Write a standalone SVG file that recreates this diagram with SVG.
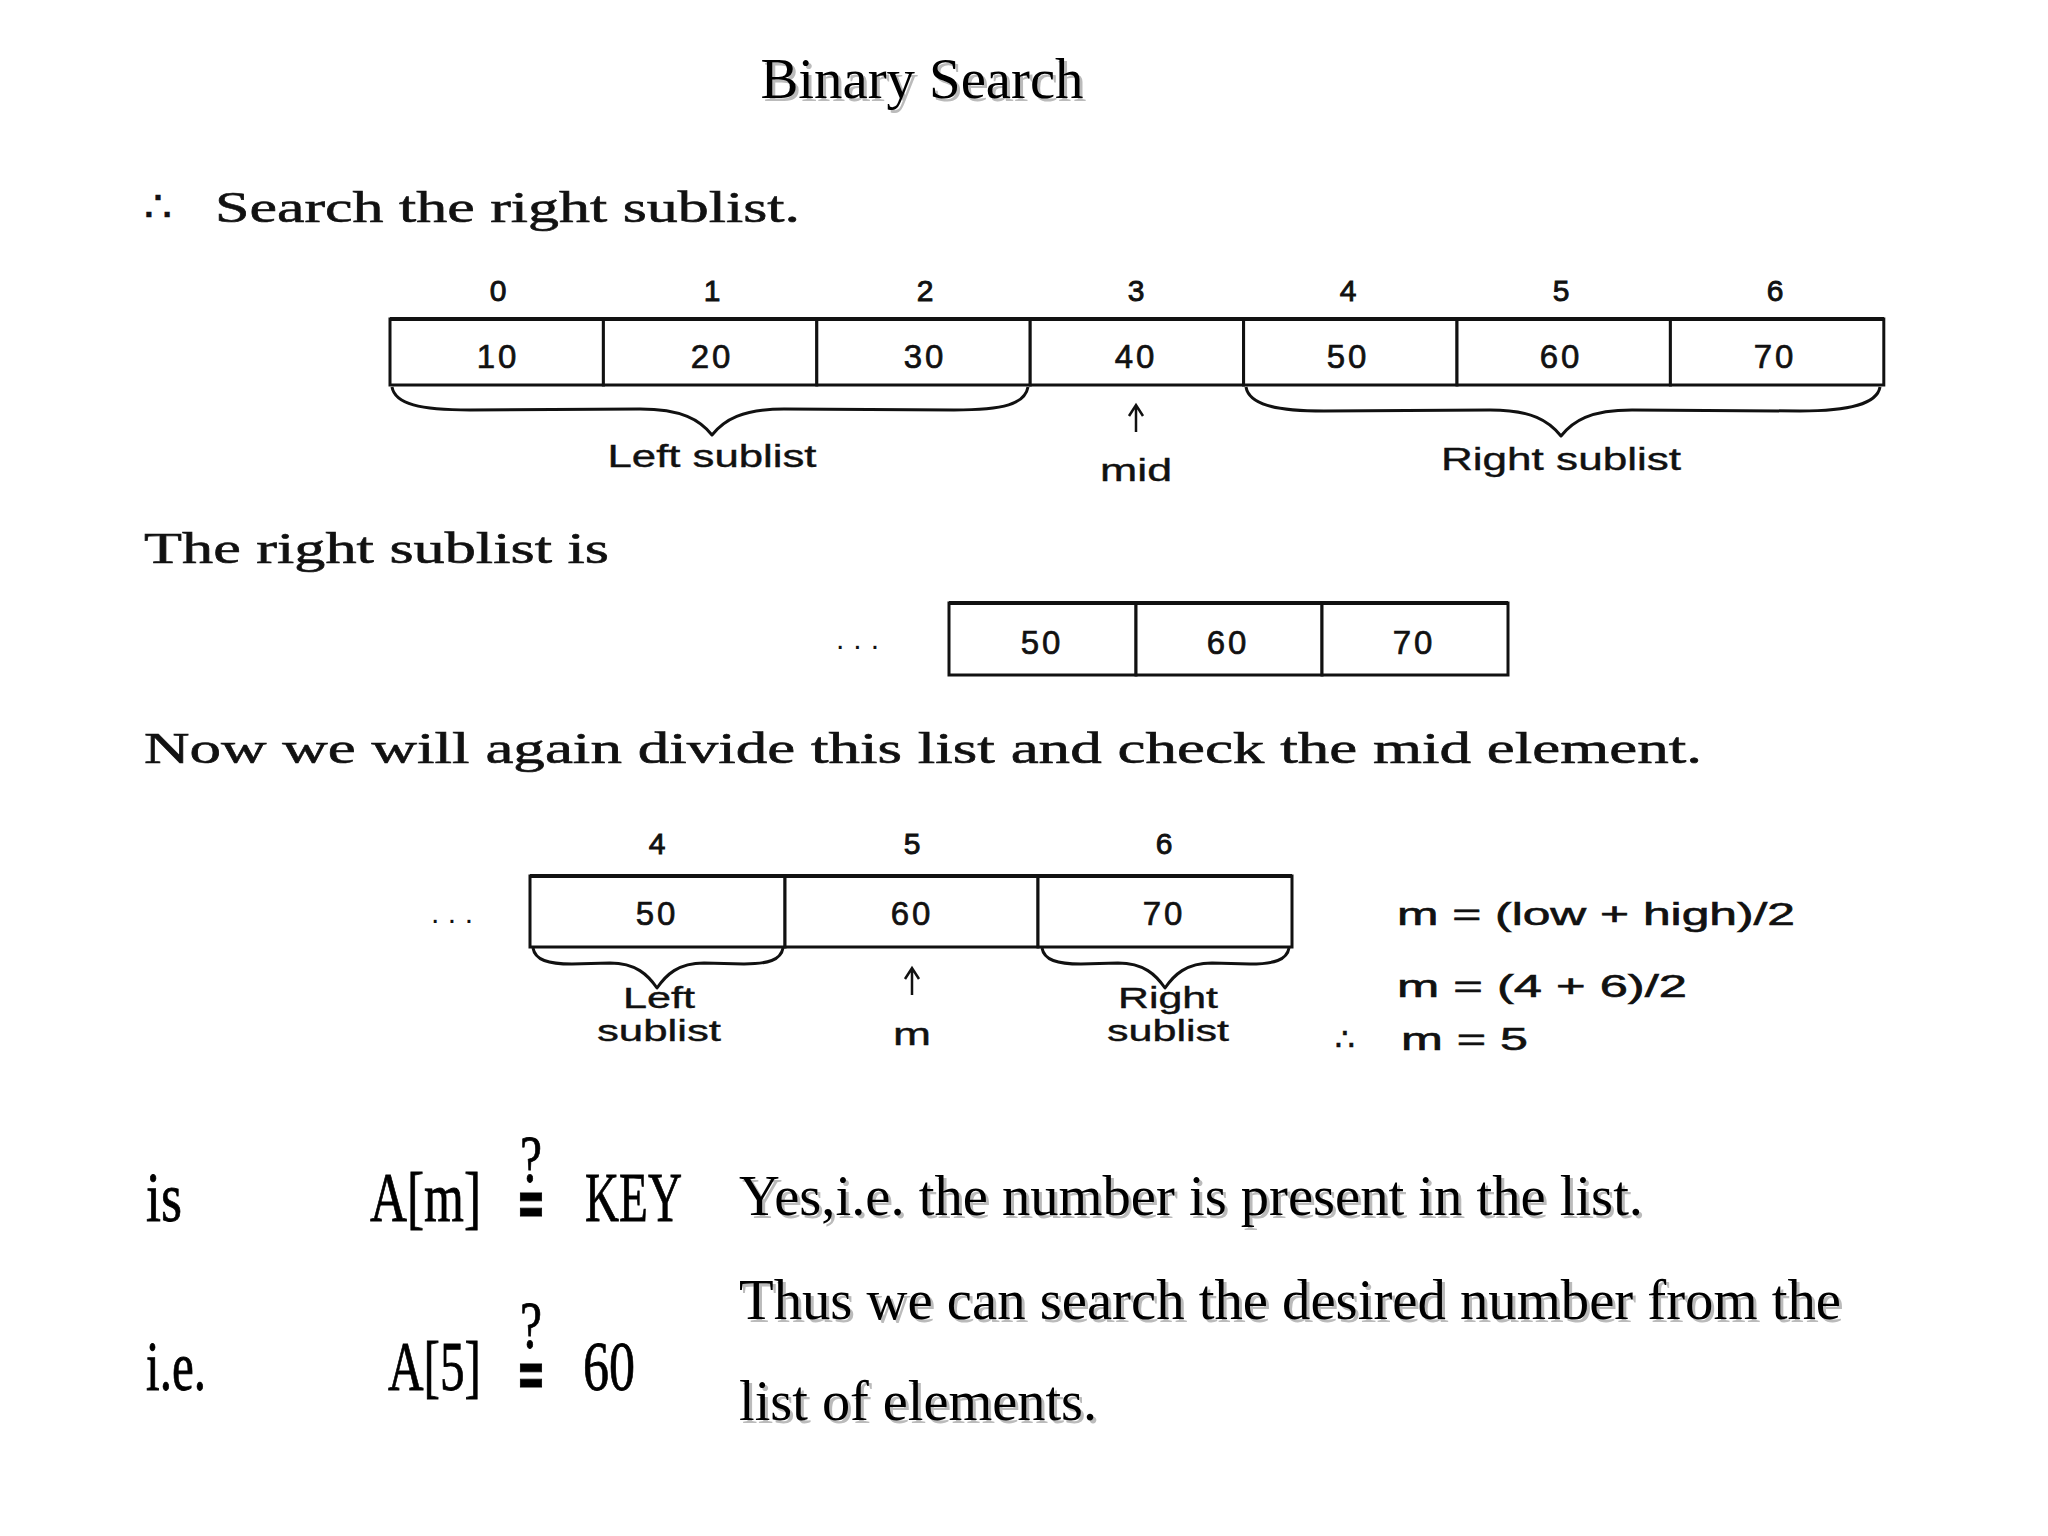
<svg xmlns="http://www.w3.org/2000/svg" width="2048" height="1536" viewBox="0 0 2048 1536">
<defs>
<style>
.serif{font-family:"Liberation Serif","Times New Roman",serif;fill:#000}
.book{font-family:"Liberation Serif","Times New Roman",serif;font-size:44px;fill:#111;stroke:#111;stroke-width:0.6}
.sans{font-family:"Liberation Sans",Arial,sans-serif;fill:#111}
.idx{font-size:30px;text-anchor:middle;stroke:#111;stroke-width:0.9}
.val{font-size:33px;text-anchor:middle;letter-spacing:3px;stroke:#111;stroke-width:0.7}
.lbl{font-size:31px;text-anchor:middle;stroke:#111;stroke-width:0.4}
.frm{font-size:31px;stroke:#111;stroke-width:0.6}
.cell{fill:#fff;stroke:#111;stroke-width:3}
.brace{fill:none;stroke:#111;stroke-width:3;stroke-linejoin:round}
.arr{fill:none;stroke:#111;stroke-width:2.5}
.shadow{fill:#bbb;stroke:none}
.math{font-family:"Liberation Serif","Times New Roman",serif;fill:#000;font-size:70px;stroke:#000;stroke-width:0.8}
</style>
</defs>
<rect width="2048" height="1536" fill="#fff"/>

<g id="title">
<text class="serif shadow" x="925" y="101" font-size="56" text-anchor="middle" textLength="323" lengthAdjust="spacingAndGlyphs">Binary Search</text>
<text class="serif" x="922" y="98" font-size="56" text-anchor="middle" textLength="323" lengthAdjust="spacingAndGlyphs">Binary Search</text>
</g>

<g id="search-right">
<text class="book" x="144" y="222">∴</text>
<text class="book" x="215" y="222" textLength="585" lengthAdjust="spacingAndGlyphs">Search the right sublist.</text>
</g>

<g id="array1">
<rect class="cell" x="390" y="319" width="213.4" height="66"/>
<rect class="cell" x="603.4" y="319" width="213.4" height="66"/>
<rect class="cell" x="816.8" y="319" width="213.4" height="66"/>
<rect class="cell" x="1030.2" y="319" width="213.4" height="66"/>
<rect class="cell" x="1243.6" y="319" width="213.4" height="66"/>
<rect class="cell" x="1457" y="319" width="213.4" height="66"/>
<rect class="cell" x="1670.4" y="319" width="213.4" height="66"/>
<line x1="390" y1="319" x2="1884" y2="319" stroke="#111" stroke-width="4"/>
<text class="sans idx" x="498" y="301">0</text>
<text class="sans idx" x="712" y="301">1</text>
<text class="sans idx" x="925" y="301">2</text>
<text class="sans idx" x="1136" y="301">3</text>
<text class="sans idx" x="1348" y="301">4</text>
<text class="sans idx" x="1561" y="301">5</text>
<text class="sans idx" x="1775" y="301">6</text>
<text class="sans val" x="498" y="368">10</text>
<text class="sans val" x="712" y="368">20</text>
<text class="sans val" x="925" y="368">30</text>
<text class="sans val" x="1136" y="368">40</text>
<text class="sans val" x="1348" y="368">50</text>
<text class="sans val" x="1561" y="368">60</text>
<text class="sans val" x="1775" y="368">70</text>
</g>

<g id="labels1">
<text class="sans lbl" x="712" y="467" textLength="209" lengthAdjust="spacingAndGlyphs">Left sublist</text>
<text class="sans lbl" x="1136" y="481" textLength="72" lengthAdjust="spacingAndGlyphs">mid</text>
<text class="sans lbl" x="1561" y="470" textLength="240" lengthAdjust="spacingAndGlyphs">Right sublist</text>
</g>

<g id="right-sublist-is">
<text class="book" x="144" y="563" textLength="465" lengthAdjust="spacingAndGlyphs">The right sublist is</text>
</g>

<g id="array2">
<text class="sans" x="836" y="649" font-size="30" textLength="43" lengthAdjust="spacing">...</text>
<rect class="cell" x="949" y="603" width="187" height="72"/>
<rect class="cell" x="1136" y="603" width="186" height="72"/>
<rect class="cell" x="1322" y="603" width="186" height="72"/>
<line x1="949" y1="603" x2="1508" y2="603" stroke="#111" stroke-width="4"/>
<text class="sans val" x="1042" y="654">50</text>
<text class="sans val" x="1228" y="654">60</text>
<text class="sans val" x="1414" y="654">70</text>
</g>

<g id="divide-text">
<text class="book" x="144" y="763" textLength="1558" lengthAdjust="spacingAndGlyphs">Now we will again divide this list and check the mid element.</text>
</g>

<g id="array3">
<text class="sans" x="431" y="923" font-size="30" textLength="42" lengthAdjust="spacing">...</text>
<rect class="cell" x="530" y="876" width="255" height="71"/>
<rect class="cell" x="785" y="876" width="253" height="71"/>
<rect class="cell" x="1038" y="876" width="254" height="71"/>
<line x1="530" y1="876" x2="1292" y2="876" stroke="#111" stroke-width="4"/>
<text class="sans idx" x="657" y="854">4</text>
<text class="sans idx" x="912" y="854">5</text>
<text class="sans idx" x="1164" y="854">6</text>
<text class="sans val" x="657" y="925">50</text>
<text class="sans val" x="912" y="925">60</text>
<text class="sans val" x="1164" y="925">70</text>
</g>

<g id="labels3">
<text class="sans lbl" style="font-size:29px"><tspan x="659" y="1008" textLength="72" lengthAdjust="spacingAndGlyphs">Left</tspan><tspan x="659" y="1041" textLength="124" lengthAdjust="spacingAndGlyphs">sublist</tspan></text>
<text class="sans lbl" x="912" y="1045" textLength="38" lengthAdjust="spacingAndGlyphs">m</text>
<text class="sans lbl" style="font-size:29px"><tspan x="1168" y="1008" textLength="100" lengthAdjust="spacingAndGlyphs">Right</tspan><tspan x="1168" y="1041" textLength="122" lengthAdjust="spacingAndGlyphs">sublist</tspan></text>
</g>

<g id="formula">
<text class="sans frm" x="1397" y="925" textLength="398" lengthAdjust="spacingAndGlyphs">m = (low + high)/2</text>
<text class="sans frm" x="1397" y="997" textLength="290" lengthAdjust="spacingAndGlyphs">m = (4 + 6)/2</text>
<text class="sans frm" x="1335" y="1050" font-size="26">∴</text>
<text class="sans frm" x="1401" y="1050" textLength="127" lengthAdjust="spacingAndGlyphs">m = 5</text>
</g>

<g id="connectors">
<path class="brace" d="M392 387 C395 404 420 410 470 410 L640 409 C682 409 700 420 712 435 C724 420 742 409 784 409 L954 410 C1004 410 1025 404 1028 387"/>
<path class="brace" d="M1246 387 C1249 404 1274 411 1324 411 L1490 410 C1532 410 1549 421 1561 436 C1573 421 1590 410 1632 410 L1800 411 C1850 411 1877 404 1880 387"/>
<path class="arr" d="M1136 432 L1136 406 M1129 416 L1136 405 L1143 416"/>
<path class="brace" d="M533 948 C535 960 548 964 572 964 L610 963 C636 963 648 975 657 988 C666 975 678 963 704 963 L744 964 C768 964 781 960 783 948"/>
<path class="brace" d="M1042 948 C1044 960 1057 964 1081 964 L1118 963 C1144 963 1156 975 1165 988 C1174 975 1186 963 1212 963 L1250 964 C1274 964 1287 960 1289 948"/>
<path class="arr" d="M912 995 L912 969 M905 979 L912 968 L919 979"/>
</g>

<g id="check-left">
<text class="math" x="146" y="1221" textLength="36" lengthAdjust="spacingAndGlyphs">is</text>
<text class="math" x="370" y="1221" textLength="111" lengthAdjust="spacingAndGlyphs">A[m]</text>
<text class="math" text-anchor="middle"><tspan x="531" y="1182" font-size="68" textLength="22" lengthAdjust="spacingAndGlyphs">?</tspan><tspan x="531" y="1226" font-family="DejaVu Sans" font-weight="bold" font-size="68" textLength="29" lengthAdjust="spacingAndGlyphs">=</tspan></text>
<text class="math" x="585" y="1221" textLength="97" lengthAdjust="spacingAndGlyphs">KEY</text>
<text class="math" x="146" y="1390" textLength="60" lengthAdjust="spacingAndGlyphs">i.e.</text>
<text class="math" x="388" y="1390" textLength="93" lengthAdjust="spacingAndGlyphs">A[5]</text>
<text class="math" text-anchor="middle"><tspan x="531" y="1348" font-size="68" textLength="22" lengthAdjust="spacingAndGlyphs">?</tspan><tspan x="531" y="1397" font-family="DejaVu Sans" font-weight="bold" font-size="68" textLength="29" lengthAdjust="spacingAndGlyphs">=</tspan></text>
<text class="math" x="583" y="1390" textLength="52" lengthAdjust="spacingAndGlyphs">60</text>
</g>

<g id="conclusion">
<text class="serif shadow" x="742" y="1218" font-size="56" textLength="904" lengthAdjust="spacingAndGlyphs">Yes,i.e. the number is present in the list.</text>
<text class="serif" x="739" y="1215" font-size="56" textLength="904" lengthAdjust="spacingAndGlyphs">Yes,i.e. the number is present in the list.</text>
<text class="serif shadow" x="742" y="1322" font-size="56" textLength="1102" lengthAdjust="spacingAndGlyphs">Thus we can search the desired number from the</text>
<text class="serif" x="739" y="1319" font-size="56" textLength="1102" lengthAdjust="spacingAndGlyphs">Thus we can search the desired number from the</text>
<text class="serif shadow" x="742" y="1423" font-size="56" textLength="358" lengthAdjust="spacingAndGlyphs">list of elements.</text>
<text class="serif" x="739" y="1420" font-size="56" textLength="358" lengthAdjust="spacingAndGlyphs">list of elements.</text>
</g>
</svg>
